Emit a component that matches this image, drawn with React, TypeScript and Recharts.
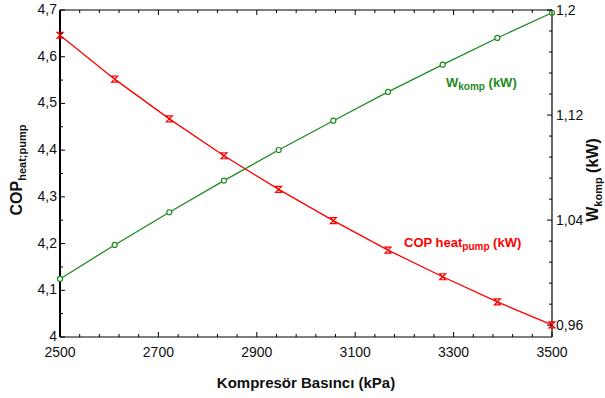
import React from 'react';
import { LineChart, Line, XAxis, YAxis, ReferenceLine } from 'recharts';

// pressure points (kPa)
const pressure = [2500, 2611.1, 2722.2, 2833.3, 2944.4, 3055.6, 3166.7, 3277.8, 3388.9, 3500];
// COP heat pump (left axis)
const cop = [4.646, 4.552, 4.467, 4.388, 4.316, 4.249, 4.186, 4.129, 4.075, 4.026];
// compressor work kW (right axis)
const wkomp = [0.9952, 1.0211, 1.046, 1.0701, 1.0934, 1.1157, 1.1376, 1.1584, 1.1787, 1.1979];

const xMajor = [2500, 2700, 2900, 3100, 3300, 3500];
const leftMajor = [4, 4.1, 4.2, 4.3, 4.4, 4.5, 4.6, 4.7];
const rightMajor = [0.96, 1.04, 1.12, 1.2];

const data = pressure.map((p, i) => ({ x: p, cop: cop[i], w: wkomp[i] }));

const W = 605;
const H = 398;
const TOP = 10;
const PLOT_H = 327;
const FONT = "Arial, 'Liberation Sans', sans-serif";
const RED = '#ff0000';
const GREEN = '#1f8a1f';

const fmt = (v: number) => String(+v.toFixed(3)).replace('.', ',');

// minor ticks
const steps = (from: number, to: number, step: number) => {
  const out: number[] = [];
  for (let v = from; v <= to + 1e-9; v += step) out.push(+v.toFixed(4));
  return out;
};
const xTicks = steps(2500, 3500, 40);
const leftTicks = steps(4, 4.7, 0.05);
const rightTicks = steps(0.96, 1.2, 0.016);

const isMajor = (v: number, majors: number[]) => majors.some((m) => Math.abs(m - v) < 1e-6);

const XTick = (props: any) => {
  const { x, y, payload } = props;
  const major = isMajor(payload.value, xMajor);
  const len = major ? 5 : 3;
  return (
    <g>
      <line x1={x} x2={x} y1={y} y2={y - len} stroke="#000" />
      <line x1={x} x2={x} y1={y - PLOT_H} y2={y - PLOT_H + len} stroke="#000" />
      {major && (
        <text x={x} y={y + 20} textAnchor="middle" fontSize={14} fontFamily={FONT} fill="#111">
          {payload.value}
        </text>
      )}
    </g>
  );
};

const LeftTick = (props: any) => {
  const { x, y, payload } = props;
  const major = isMajor(payload.value, leftMajor);
  const len = major ? 5 : 3;
  return (
    <g>
      <line x1={x} x2={x + len} y1={y} y2={y} stroke="#000" />
      {major && (
        <text x={x - 3} y={y + 4} textAnchor="end" fontSize={14} fontFamily={FONT} fill="#111">
          {fmt(payload.value)}
        </text>
      )}
    </g>
  );
};

const RightTick = (props: any) => {
  const { x, y, payload } = props;
  const major = isMajor(payload.value, rightMajor);
  const len = major ? 5 : 3;
  return (
    <g>
      <line x1={x} x2={x - len} y1={y} y2={y} stroke="#000" />
      {major && (
        <text x={x + 4} y={y + 5} textAnchor="start" fontSize={14} fontFamily={FONT} fill="#111">
          {fmt(payload.value)}
        </text>
      )}
    </g>
  );
};

const HourGlass = (props: any) => {
  const { cx, cy } = props;
  if (cx == null || cy == null) return null;
  return (
    <path
      d={`M${cx - 3},${cy - 3}L${cx + 3},${cy - 3}L${cx - 3},${cy + 3}L${cx + 3},${cy + 3}Z`}
      stroke={RED}
      strokeWidth={1.2}
      fill="none"
    />
  );
};

const Ring = (props: any) => {
  const { cx, cy } = props;
  if (cx == null || cy == null) return null;
  return <circle cx={cx} cy={cy} r={2.5} stroke={GREEN} strokeWidth={1.2} fill="#fff" />;
};

export default function App() {
  return (
    <div style={{ position: 'absolute', left: 0, top: 0, width: W, height: H, background: '#fff' }}>
      <LineChart width={W} height={H} data={data} margin={{ top: TOP, right: 0, bottom: 0, left: 0 }}>
        <XAxis
          dataKey="x"
          type="number"
          domain={[2500, 3500]}
          ticks={xTicks}
          interval={0}
          height={61}
          tickSize={0}
          tickMargin={0}
          tickLine={false}
          axisLine={{ stroke: '#000', strokeWidth: 1.2 }}
          tick={<XTick />}
        />
        <YAxis
          yAxisId="left"
          orientation="left"
          type="number"
          domain={[4, 4.7]}
          ticks={leftTicks}
          interval={0}
          width={60}
          tickSize={0}
          tickMargin={0}
          tickLine={false}
          axisLine={{ stroke: '#000', strokeWidth: 2 }}
          tick={<LeftTick />}
        />
        <YAxis
          yAxisId="right"
          orientation="right"
          type="number"
          domain={[0.951, 1.2]}
          ticks={rightTicks}
          interval={0}
          width={53}
          tickSize={0}
          tickMargin={0}
          tickLine={false}
          axisLine={{ stroke: '#000', strokeWidth: 1.2 }}
          tick={<RightTick />}
        />
        <ReferenceLine yAxisId="left" y={4.7} stroke="#000" strokeWidth={1.2} />
        <Line
          yAxisId="left"
          dataKey="cop"
          stroke={RED}
          strokeWidth={1.3}
          dot={<HourGlass />}
          isAnimationActive={false}
        />
        <Line
          yAxisId="right"
          dataKey="w"
          stroke={GREEN}
          strokeWidth={1.3}
          dot={<Ring />}
          isAnimationActive={false}
        />
        <text x={306} y={388} textAnchor="middle" fontSize={15} fontWeight="bold" fontFamily={FONT} fill="#111">
          Kompresör Basıncı (kPa)
        </text>
        <text
          transform="translate(22,170) rotate(-90)"
          textAnchor="middle"
          fontSize={16}
          fontWeight="bold"
          fontFamily={FONT}
          fill="#111"
        >
          COP<tspan fontSize={11} dy={4}>heat;pump</tspan>
        </text>
        <text
          transform="translate(598,180) rotate(-90)"
          textAnchor="middle"
          fontSize={16}
          fontWeight="bold"
          fontFamily={FONT}
          fill="#111"
        >
          W<tspan fontSize={11} dy={4}>komp</tspan>
          <tspan dy={-4}> (kW)</tspan>
        </text>
        <text x={446} y={87} fontSize={13} fontWeight="bold" fontFamily={FONT} fill={GREEN}>
          W<tspan fontSize={10} dy={3}>komp</tspan>
          <tspan dy={-3}> (kW)</tspan>
        </text>
        <text x={404} y={247} fontSize={13} fontWeight="bold" fontFamily={FONT} fill={RED}>
          COP heat<tspan fontSize={10} dy={3}>pump</tspan>
          <tspan dy={-3}> (kW)</tspan>
        </text>
      </LineChart>
    </div>
  );
}
